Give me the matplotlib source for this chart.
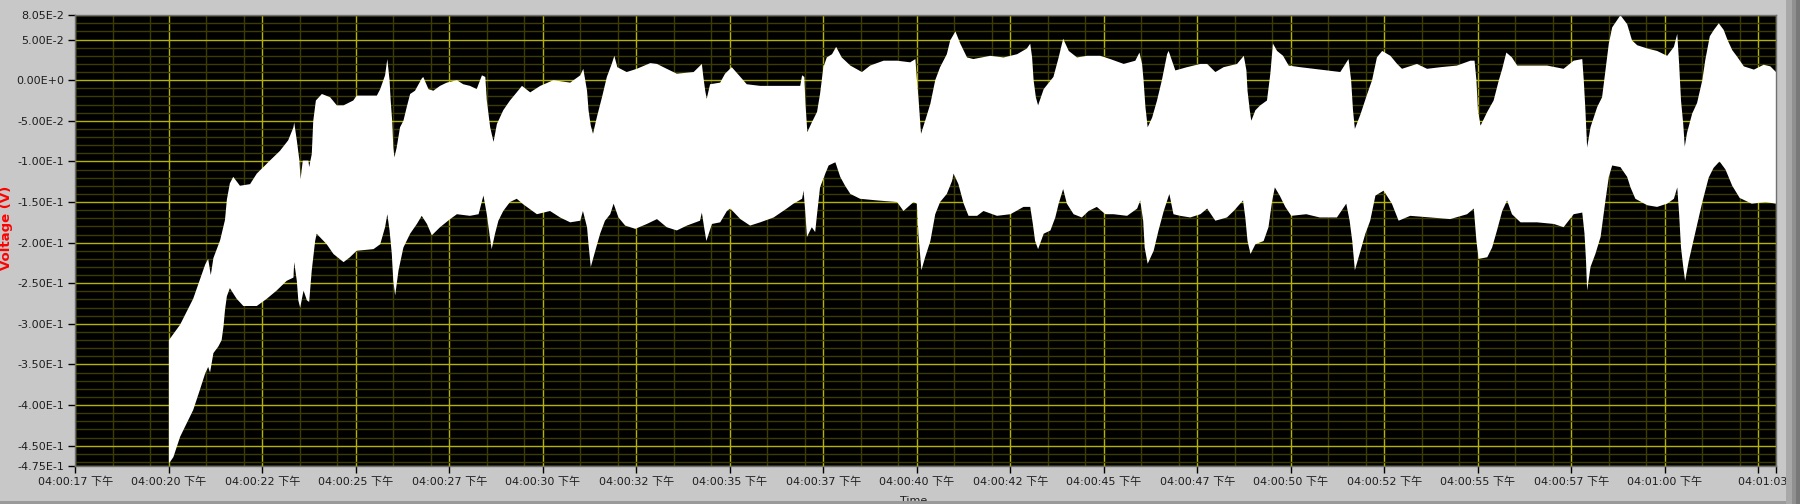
import numpy as np
import matplotlib.pyplot as plt
from matplotlib.patches import Rectangle

# Upper envelope of the voltage trace (seconds after 04:00:00, volts)
time_upper = [20.00, 20.30, 20.65, 20.97, 21.05, 21.12, 21.19, 21.37, 21.50, 21.55,
              21.63, 21.72, 21.90, 22.17, 22.35, 22.70, 22.97, 23.19, 23.33, 23.35,
              23.42, 23.49, 23.52, 23.58, 23.73, 23.75, 23.82, 23.86, 23.93, 24.09,
              24.31, 24.49, 24.67, 24.93, 25.02, 25.56, 25.65, 25.78, 25.84, 25.90,
              25.93, 25.97, 26.00, 26.03, 26.09, 26.18, 26.27, 26.36, 26.45, 26.58,
              26.76, 26.80, 26.94, 27.07, 27.25, 27.43, 27.70, 27.87, 28.05, 28.23,
              28.37, 28.46, 28.50, 28.59, 28.68, 28.77, 28.94, 29.12, 29.30, 29.44,
              29.66, 29.93, 30.28, 30.73, 31.00, 31.08, 31.18, 31.22, 31.28, 31.34,
              31.44, 31.58, 31.71, 31.84, 31.91, 31.99, 32.24, 32.51, 32.87, 33.05,
              33.31, 33.58, 34.03, 34.25, 34.29, 34.34, 34.38, 34.47, 34.74, 34.87,
              35.05, 35.28, 35.45, 35.81, 36.52, 36.88, 36.93, 36.99, 37.02, 37.07,
              37.19, 37.33, 37.41, 37.50, 37.59, 37.73, 37.84, 37.99, 38.22, 38.53,
              38.75, 39.11, 39.47, 39.82, 39.96, 40.00, 40.04, 40.11, 40.22, 40.36,
              40.49, 40.62, 40.80, 40.89, 41.03, 41.16, 41.34, 41.51, 41.96, 42.32,
              42.68, 42.94, 43.03, 43.08, 43.12, 43.18, 43.24, 43.39, 43.65, 43.79,
              43.91, 44.06, 44.28, 44.55, 44.90, 45.17, 45.53, 45.84, 45.95, 46.02,
              46.06, 46.11, 46.17, 46.29, 46.42, 46.55, 46.69, 46.73, 46.82, 46.91,
              47.22, 47.58, 47.76, 47.98, 48.20, 48.56, 48.74, 48.81, 48.84, 48.90,
              48.94, 49.05, 49.18, 49.36, 49.45, 49.52, 49.63, 49.79, 49.94, 50.25,
              50.61, 50.97, 51.32, 51.54, 51.61, 51.66, 51.71, 51.86, 52.04, 52.17,
              52.30, 52.44, 52.66, 52.84, 52.97, 53.37, 53.64, 54.00, 54.44, 54.80,
              54.91, 54.96, 55.00, 55.07, 55.25, 55.42, 55.56, 55.65, 55.76, 55.91,
              56.05, 56.40, 56.85, 57.29, 57.56, 57.79, 57.83, 57.87, 57.92, 58.01,
              58.19, 58.32, 58.41, 58.50, 58.59, 58.81, 58.99, 59.12, 59.26, 59.53,
              59.79, 60.06, 60.24, 60.33, 60.38, 60.43, 60.49, 60.53, 60.59, 60.73,
              60.86, 61.00, 61.08, 61.20, 61.31, 61.44, 61.57, 61.67, 61.80, 61.93,
              62.11, 62.38, 62.64, 62.82, 62.97]
volt_upper = [-0.320, -0.301, -0.269, -0.227, -0.220, -0.240, -0.219, -0.197, -0.172, -0.147,
              -0.127, -0.119, -0.130, -0.128, -0.115, -0.099, -0.087, -0.074, -0.058, -0.052,
              -0.074, -0.099, -0.122, -0.099, -0.099, -0.107, -0.091, -0.050, -0.025, -0.017,
              -0.021, -0.031, -0.031, -0.025, -0.019, -0.019, -0.011, 0.006, 0.026, 0.000,
              -0.025, -0.050, -0.083, -0.095, -0.083, -0.058, -0.050, -0.033, -0.017, -0.013,
              0.002, 0.004, -0.011, -0.013, -0.007, -0.003, 0.000, -0.005, -0.007, -0.011,
              0.006, 0.004, -0.025, -0.058, -0.076, -0.054, -0.037, -0.025, -0.015, -0.007,
              -0.015, -0.007, 0.000, -0.003, 0.006, 0.014, -0.013, -0.037, -0.056, -0.066,
              -0.046, -0.021, 0.004, 0.020, 0.030, 0.016, 0.010, 0.014, 0.021, 0.020,
              0.014, 0.008, 0.010, 0.020, 0.004, -0.013, -0.023, -0.005, -0.003, 0.008,
              0.016, 0.004, -0.005, -0.007, -0.007, -0.007, 0.006, 0.004, -0.029, -0.064,
              -0.052, -0.039, -0.017, 0.016, 0.028, 0.032, 0.041, 0.028, 0.018, 0.010,
              0.018, 0.024, 0.024, 0.022, 0.026, 0.000, -0.021, -0.066, -0.050, -0.029,
              0.000, 0.016, 0.032, 0.049, 0.060, 0.045, 0.028, 0.026, 0.030, 0.028,
              0.032, 0.039, 0.045, 0.028, 0.000, -0.021, -0.031, -0.011, 0.004, 0.028,
              0.051, 0.036, 0.028, 0.030, 0.030, 0.026, 0.020, 0.024, 0.034, 0.020,
              0.000, -0.033, -0.058, -0.046, -0.025, 0.000, 0.032, 0.036, 0.024, 0.012,
              0.016, 0.020, 0.020, 0.010, 0.016, 0.020, 0.030, 0.012, -0.013, -0.037,
              -0.050, -0.037, -0.031, -0.025, 0.008, 0.045, 0.036, 0.030, 0.018, 0.016,
              0.014, 0.012, 0.010, 0.026, 0.000, -0.037, -0.060, -0.042, -0.017, 0.000,
              0.028, 0.036, 0.030, 0.020, 0.014, 0.020, 0.014, 0.016, 0.018, 0.024,
              0.024, 0.000, -0.037, -0.056, -0.039, -0.025, 0.000, 0.014, 0.034, 0.028,
              0.018, 0.018, 0.018, 0.014, 0.024, 0.026, 0.000, -0.033, -0.083, -0.058,
              -0.033, -0.021, 0.012, 0.045, 0.065, 0.080, 0.069, 0.049, 0.043, 0.039,
              0.036, 0.030, 0.041, 0.057, 0.020, -0.025, -0.054, -0.082, -0.065, -0.041,
              -0.028, 0.000, 0.025, 0.054, 0.062, 0.070, 0.062, 0.050, 0.037, 0.029,
              0.017, 0.013, 0.019, 0.017, 0.010]

# Lower envelope of the voltage trace
time_lower = [20.00, 20.12, 20.30, 20.48, 20.65, 20.83, 20.97, 21.05, 21.10, 21.19,
              21.32, 21.41, 21.46, 21.50, 21.55, 21.63, 21.81, 21.99, 22.35, 22.62,
              22.88, 23.15, 23.33, 23.35, 23.42, 23.46, 23.51, 23.60, 23.69, 23.75,
              23.82, 23.91, 23.95, 24.22, 24.40, 24.67, 24.84, 25.02, 25.47, 25.65,
              25.78, 25.84, 25.90, 25.96, 26.00, 26.05, 26.14, 26.27, 26.45, 26.63,
              26.76, 26.90, 27.03, 27.25, 27.52, 27.70, 28.05, 28.28, 28.41, 28.50,
              28.57, 28.63, 28.72, 28.81, 28.94, 29.12, 29.30, 29.48, 29.84, 30.19,
              30.46, 30.73, 31.00, 31.07, 31.18, 31.22, 31.28, 31.40, 31.53, 31.66,
              31.80, 31.89, 32.02, 32.20, 32.47, 32.78, 33.05, 33.31, 33.58, 33.85,
              34.20, 34.25, 34.31, 34.37, 34.52, 34.74, 34.92, 35.01, 35.28, 35.54,
              35.81, 36.17, 36.52, 36.70, 36.93, 36.97, 37.02, 37.06, 37.19, 37.28,
              37.33, 37.41, 37.55, 37.64, 37.82, 37.95, 38.08, 38.22, 38.48, 38.93,
              39.47, 39.64, 39.91, 40.00, 40.04, 40.12, 40.22, 40.36, 40.49, 40.62,
              40.80, 40.94, 40.98, 41.11, 41.25, 41.38, 41.61, 41.78, 42.14, 42.50,
              42.85, 43.03, 43.10, 43.16, 43.24, 43.39, 43.57, 43.70, 43.79, 43.91,
              44.01, 44.19, 44.41, 44.59, 44.81, 45.04, 45.26, 45.62, 45.89, 45.97,
              46.05, 46.09, 46.17, 46.33, 46.46, 46.60, 46.75, 46.86, 47.04, 47.31,
              47.58, 47.76, 47.98, 48.29, 48.47, 48.72, 48.78, 48.84, 48.92, 49.05,
              49.27, 49.40, 49.50, 49.57, 49.70, 49.85, 50.01, 50.41, 50.77, 51.23,
              51.48, 51.57, 51.64, 51.71, 51.86, 51.99, 52.12, 52.26, 52.48, 52.70,
              52.88, 53.19, 53.73, 54.26, 54.71, 54.89, 54.96, 55.02, 55.25, 55.38,
              55.51, 55.65, 55.78, 55.91, 56.14, 56.58, 57.03, 57.29, 57.56, 57.79,
              57.85, 57.89, 57.92, 58.01, 58.14, 58.28, 58.41, 58.50, 58.59, 58.81,
              58.99, 59.08, 59.21, 59.53, 59.79, 60.06, 60.24, 60.33, 60.38, 60.43,
              60.49, 60.54, 60.64, 60.80, 61.00, 61.17, 61.30, 61.46, 61.62, 61.80,
              62.00, 62.32, 62.69, 62.97]
volt_lower = [-0.472, -0.464, -0.439, -0.422, -0.406, -0.381, -0.361, -0.353, -0.360, -0.336,
              -0.328, -0.320, -0.303, -0.283, -0.266, -0.256, -0.269, -0.278, -0.278, -0.269,
              -0.259, -0.247, -0.243, -0.224, -0.247, -0.271, -0.280, -0.259, -0.271, -0.273,
              -0.234, -0.198, -0.189, -0.202, -0.214, -0.224, -0.218, -0.210, -0.208, -0.202,
              -0.181, -0.165, -0.185, -0.214, -0.247, -0.265, -0.234, -0.206, -0.189, -0.177,
              -0.167, -0.177, -0.191, -0.181, -0.171, -0.165, -0.167, -0.165, -0.142, -0.165,
              -0.189, -0.208, -0.189, -0.173, -0.161, -0.150, -0.146, -0.153, -0.165, -0.161,
              -0.169, -0.175, -0.173, -0.161, -0.181, -0.202, -0.230, -0.210, -0.189, -0.173,
              -0.165, -0.152, -0.169, -0.179, -0.183, -0.177, -0.171, -0.181, -0.185, -0.179,
              -0.173, -0.163, -0.181, -0.198, -0.177, -0.175, -0.161, -0.158, -0.171, -0.179,
              -0.175, -0.169, -0.158, -0.152, -0.146, -0.136, -0.165, -0.193, -0.181, -0.187,
              -0.165, -0.132, -0.115, -0.105, -0.101, -0.119, -0.130, -0.140, -0.146, -0.148,
              -0.150, -0.161, -0.150, -0.152, -0.189, -0.234, -0.218, -0.198, -0.165, -0.150,
              -0.140, -0.124, -0.115, -0.128, -0.152, -0.167, -0.167, -0.161, -0.167, -0.165,
              -0.156, -0.156, -0.177, -0.198, -0.208, -0.189, -0.185, -0.169, -0.152, -0.134,
              -0.152, -0.165, -0.169, -0.161, -0.156, -0.165, -0.165, -0.167, -0.158, -0.148,
              -0.173, -0.206, -0.226, -0.210, -0.185, -0.161, -0.140, -0.165, -0.167, -0.169,
              -0.165, -0.158, -0.173, -0.169, -0.161, -0.148, -0.169, -0.198, -0.214, -0.202,
              -0.198, -0.181, -0.148, -0.132, -0.142, -0.156, -0.167, -0.165, -0.169, -0.169,
              -0.152, -0.173, -0.198, -0.234, -0.210, -0.189, -0.173, -0.142, -0.136, -0.152,
              -0.173, -0.167, -0.169, -0.171, -0.165, -0.158, -0.198, -0.220, -0.218, -0.206,
              -0.185, -0.161, -0.148, -0.165, -0.175, -0.175, -0.177, -0.181, -0.165, -0.163,
              -0.189, -0.222, -0.259, -0.230, -0.214, -0.193, -0.148, -0.119, -0.105, -0.107,
              -0.119, -0.132, -0.146, -0.154, -0.156, -0.152, -0.146, -0.132, -0.165, -0.206,
              -0.230, -0.247, -0.222, -0.190, -0.150, -0.120, -0.108, -0.100, -0.110, -0.130,
              -0.145, -0.152, -0.150, -0.152]

# Axis ranges and tick labels
time_start = 17.5
time_end = 62.97
volt_top = 0.0805
volt_bottom = -0.475
time_ticks = [17.5, 20.0, 22.5, 25.0, 27.5, 30.0, 32.5, 35.0, 37.5, 40.0,
              42.5, 45.0, 47.5, 50.0, 52.5, 55.0, 57.5, 60.0, 62.5, 62.97]
time_labels = ['04:00:17 下午', '04:00:20 下午', '04:00:22 下午', '04:00:25 下午',
               '04:00:27 下午', '04:00:30 下午', '04:00:32 下午', '04:00:35 下午',
               '04:00:37 下午', '04:00:40 下午', '04:00:42 下午', '04:00:45 下午',
               '04:00:47 下午', '04:00:50 下午', '04:00:52 下午', '04:00:55 下午',
               '04:00:57 下午', '04:01:00 下午', '', '04:01:03 下午']
volt_ticks = [0.0805, 0.05, 0.0, -0.05, -0.10, -0.15, -0.20, -0.25, -0.30,
              -0.35, -0.40, -0.45, -0.475]
volt_labels = ['8.05E-2', '5.00E-2', '0.00E+0', '-5.00E-2', '-1.00E-1', '-1.50E-1',
               '-2.00E-1', '-2.50E-1', '-3.00E-1', '-3.50E-1', '-4.00E-1',
               '-4.50E-1', '-4.75E-1']

plt.rcParams['font.family'] = ['DejaVu Sans', 'Noto Sans CJK SC']

W, H = 1800, 504
fig = plt.figure(figsize=(W / 100, H / 100), dpi=100, facecolor='#c8c8c8')
left, right, top, bottom = 75.4, 1776, 14.8, 466
ax = fig.add_axes([left / W, 1 - bottom / H, (right - left) / W, (bottom - top) / H])
ax.set_facecolor('black')

# white band: upper envelope forward, lower envelope back
poly_t = np.concatenate([time_upper, time_lower[::-1]])
poly_v = np.concatenate([volt_upper, volt_lower[::-1]])
ax.fill(poly_t, poly_v, color='white', lw=0, zorder=2)

ax.set_xlim(time_start, time_end)
ax.set_ylim(volt_bottom, volt_top)

# major ticks and labels
ax.set_xticks(time_ticks)
ax.set_xticklabels(time_labels, fontsize=8, color='#1e1e1e')
ax.set_yticks(volt_ticks)
ax.set_yticklabels(volt_labels, fontsize=8, color='#1e1e1e')

# minor grid: 1 s and 2 s after each major time tick, every 0.01 V
minor_t = [m + k for m in time_ticks[:-1] for k in (1.0, 2.0) if m + k < time_end]
minor_v = [v / 100 for v in range(-47, 9)]
ax.set_xticks(minor_t, minor=True)
ax.set_yticks(minor_v, minor=True)

ax.grid(which='minor', color='#3c3c00', lw=1)
ax.grid(which='major', color='#b4b400', lw=1)
ax.tick_params(which='minor', length=0)
ax.tick_params(which='major', length=5, width=1, color='black', pad=3)

for s in ax.spines.values():
    s.set_color('#707070')
    s.set_linewidth(1)

# axis titles
fig.text(7 / W, 1 - 228 / H, 'Voltage (V)', rotation=90, color='#ff0000',
         fontsize=9.5, fontweight='bold', ha='center', va='center')
fig.text(914 / W, 1 - 496 / H, 'Time', fontsize=8, color='#1e1e1e',
         ha='center', va='top')

# frame strips at right and bottom edge of the panel
for x0, w, c in [(1786, 6, '#a8a8a8'), (1792, 4, '#909090'), (1796, 4, '#787878')]:
    fig.add_artist(Rectangle((x0 / W, 0), w / W, 1, transform=fig.transFigure,
                             color=c, lw=0, zorder=5))
fig.add_artist(Rectangle((0, 0), 1786 / W, 3 / H, transform=fig.transFigure,
                         color='#9a9a9a', lw=0, zorder=5))

fig.savefig('out.png', dpi=100, facecolor=fig.get_facecolor())
plt.close(fig)
